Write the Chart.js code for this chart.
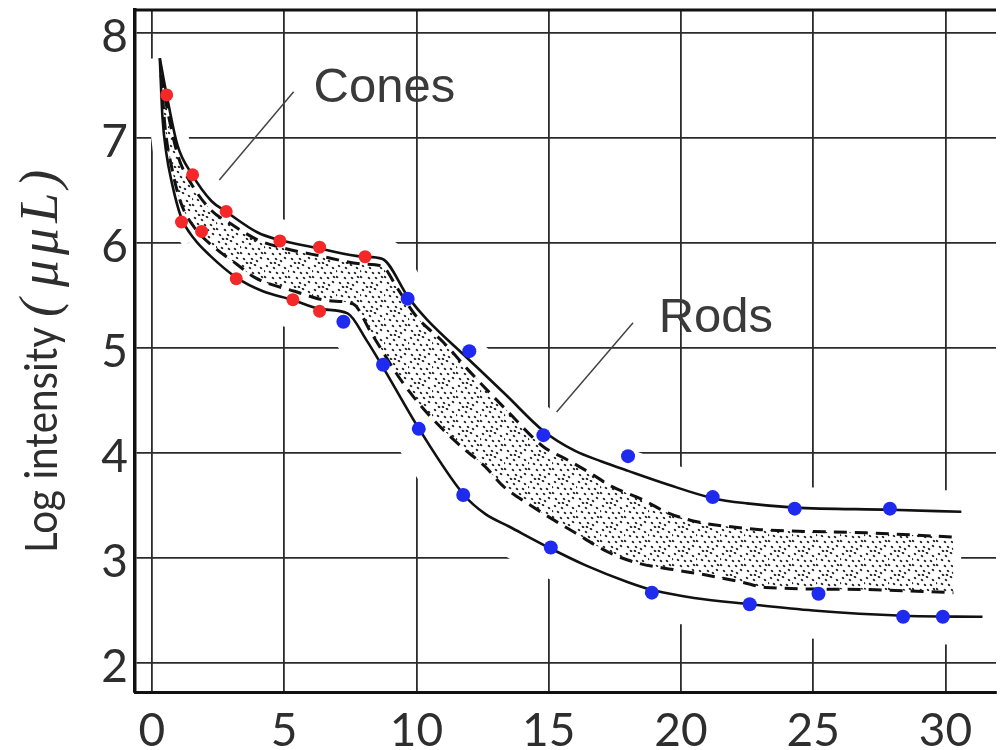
<!DOCTYPE html>
<html>
<head>
<meta charset="utf-8">
<script src="https://cdn.jsdelivr.net/npm/chart.js@4.4.1/dist/chart.umd.min.js"></script>
<style>
html, body { margin:0; padding:0; background:#fff; overflow:hidden; }
#chart { display:block; }
</style>
</head>
<body>
<canvas id="chart" width="1003" height="750"></canvas>
<script>
// dark adaptation: minutes in the dark vs log threshold intensity
var xTicks = [0, 5, 10, 15, 20, 25, 30];
var yTicks = [2, 3, 4, 5, 6, 7, 8];

var coneDots = [[0.56,7.41],[1.12,6.20],[1.54,6.65],[1.88,6.11],[2.81,6.30],[3.19,5.66],[4.84,6.02],[5.33,5.46],[6.34,5.96],[6.34,5.35],[8.06,5.87]];
var rodDots = [[7.24,5.25],[8.74,4.84],[9.67,5.47],[10.09,4.23],[11.77,3.60],[12.0,4.97],[14.8,4.17],[15.08,3.10],[18.0,3.97],[18.9,2.67],[21.2,3.58],[22.6,2.56],[24.3,3.47],[25.2,2.66],[27.9,3.47],[28.4,2.44],[29.9,2.44]];

var upperSolid = [[0.3,7.76],[0.56,7.41],[0.97,6.93],[1.5,6.66],[2.25,6.4],[2.8,6.3],[4,6.1],[4.8,6.03],[6.3,5.95],[8,5.87],[8.7,5.85],[9.7,5.48],[10.4,5.27],[11.9,4.91],[13.4,4.55],[14.8,4.21],[16,4.02],[17,3.92],[18,3.83],[19.5,3.7],[21.2,3.57],[22.5,3.52],[24.3,3.48],[27.9,3.46],[30.6,3.44]];
var lowerSolid = [[0.3,7.76],[0.4,7.2],[0.55,6.85],[0.75,6.58],[1.1,6.25],[1.6,6.04],[2.2,5.88],[3.2,5.67],[4.2,5.54],[5.3,5.46],[6.4,5.37],[7.4,5.33],[8.1,5.08],[8.8,4.79],[10.1,4.23],[11.8,3.6],[12.6,3.42],[13.5,3.3],[15,3.1],[16.4,2.93],[18,2.77],[19,2.69],[20.5,2.62],[22.6,2.56],[25,2.5],[28.4,2.45],[31.4,2.44]];
var upperDashed = [[0.35,7.6],[0.6,7.25],[1,6.82],[1.5,6.56],[2.25,6.31],[3,6.18],[4,6.03],[5,5.95],[6.3,5.88],[8,5.8],[8.7,5.78],[9.3,5.56],[10,5.3],[11,5.06],[12,4.78],[13.4,4.41],[14.8,4.06],[15.6,3.95],[16.5,3.82],[17.4,3.68],[18.6,3.55],[19.5,3.43],[20.7,3.34],[21.8,3.3],[23,3.27],[27,3.24],[30.3,3.2]];
var lowerDashed = [[0.35,7.6],[0.5,7.1],[0.75,6.72],[1.1,6.38],[1.6,6.15],[2.4,5.95],[3.2,5.8],[3.9,5.67],[5.4,5.54],[6.7,5.45],[7.6,5.42],[8.3,5.14],[9.4,4.7],[10.2,4.44],[10.9,4.25],[11.7,4.06],[12.6,3.87],[13.3,3.68],[14.2,3.52],[16,3.24],[17.3,3.05],[18.4,2.95],[19.7,2.89],[20.9,2.84],[22.3,2.77],[23.2,2.72],[26.9,2.7],[30.3,2.67]];

var notes = [
	{ text:'Cones', at:[6.11,7.34], from:[5.36,7.44], to:[2.55,6.60] },
	{ text:'Rods', at:[19.16,5.15], from:[18.19,5.24], to:[15.3,4.39] }
];

function pts(list) {
	return list.map(function(p) { return { x:p[0], y:p[1] }; });
}

function stipple() {
	var c = document.createElement('canvas');
	c.width = 24; c.height = 24;
	var g = c.getContext('2d');
	g.fillStyle = '#222';
	var spots = [[3,2],[10,4],[15,1],[21,4],[6,8],[13,9],[19,9],[1,13],[9,14],[16,14],[22,13],[4,19],[12,19],[17,21],[21,18],[7,23],[0,7],[11,23]];
	spots.forEach(function(p) {
		g.beginPath();
		g.ellipse(p[0], p[1], 1.4, 1.05, 0.6, 0, Math.PI * 2);
		g.fill();
	});
	return g.createPattern(c, 'repeat');
}

function curve(data, opts) {
	var d = {
		data: pts(data), showLine: true, pointRadius: 0, borderColor: '#111', borderWidth: 2.6,
		cubicInterpolationMode: 'monotone', fill: false, order: 3
	};
	Object.keys(opts || {}).forEach(function(k) { d[k] = opts[k]; });
	return d;
}

// white band that erases the grid around the curves, thinner near the peak
function halo(data, width, opts) {
	var d = curve(data, {
		borderColor: '#fff', borderWidth: width, order: 9,
		clip: { left: -3, top: -3, right: 0, bottom: -3 },
		segment: { borderWidth: function(c) { return c.p0.parsed.x < 1.2 ? 26 : undefined; } }
	});
	Object.keys(opts || {}).forEach(function(k) { d[k] = opts[k]; });
	return d;
}

var decor = {
	id: 'decor',
	afterDraw: function(chart) {
		var ctx = chart.ctx, a = chart.chartArea, xs = chart.scales.x, ys = chart.scales.y;
		ctx.save();
		ctx.strokeStyle = '#111';
		ctx.lineWidth = 3;
		ctx.beginPath();
		ctx.moveTo(a.left - 1.5, a.top);
		ctx.lineTo(a.right, a.top);
		ctx.stroke();

		notes.forEach(function(n) {
			ctx.strokeStyle = '#444';
			ctx.lineWidth = 1.5;
			ctx.beginPath();
			ctx.moveTo(xs.getPixelForValue(n.from[0]), ys.getPixelForValue(n.from[1]));
			ctx.lineTo(xs.getPixelForValue(n.to[0]), ys.getPixelForValue(n.to[1]));
			ctx.stroke();
			ctx.fillStyle = '#3a3a3a';
			ctx.font = '49px "Liberation Sans"';
			ctx.textBaseline = 'alphabetic';
			ctx.textAlign = 'left';
			ctx.fillText(n.text, xs.getPixelForValue(n.at[0]), ys.getPixelForValue(n.at[1]));
		});

		// axis title, plain part then the italic unit
		ctx.translate(57, 553);
		ctx.rotate(-Math.PI / 2);
		ctx.fillStyle = '#2e2e2e';
		ctx.textBaseline = 'alphabetic';
		ctx.textAlign = 'left';
		ctx.font = '44px Lato';
		var t1 = 'Log intensity';
		var w1 = ctx.measureText(t1).width;
		ctx.save();
		ctx.scale(226 / w1, 1);
		ctx.fillText(t1, 0, 0);
		ctx.restore();
		ctx.font = 'italic 54px "Liberation Serif"';
		ctx.fillText('(', 236, 0);
		ctx.letterSpacing = '5px';
		ctx.fillText('\u03bc\u03bcL)', 266, 0);
		ctx.restore();
	}
};

window.onload = function() {
	var tickFont = { family: 'Lato', size: 46 };
	new Chart(document.getElementById('chart'), {
		type: 'line',
		data: {
			datasets: [
				{ data: pts(coneDots), showLine: false, pointRadius: 6.5, pointBackgroundColor: '#f42828', pointBorderWidth: 0, order: 1 },
				{ data: pts(rodDots), showLine: false, pointRadius: 7, pointBackgroundColor: '#1f2af0', pointBorderWidth: 0, order: 1 },
				curve(upperSolid),
				curve(lowerSolid),
				curve(upperDashed, { borderDash: [13, 8], borderWidth: 3, fill: 5, backgroundColor: stipple(), order: 5 }),
				curve(lowerDashed, { borderDash: [13, 8], borderWidth: 3, order: 5 }),
				halo(upperSolid, 42, { fill: 7, backgroundColor: '#fff' }),
				halo(lowerSolid, 56)
			]
		},
		options: {
			responsive: false,
			animation: false,
			layout: { padding: { top: 10, left: 0, right: 0, bottom: 0 } },
			plugins: { legend: { display: false }, tooltip: { enabled: false } },
			scales: {
				x: {
					type: 'linear', min: -0.6375, max: 31.91,
					afterBuildTicks: function(s) { s.ticks = xTicks.map(function(v) { return { value:v }; }); },
					afterFit: function(s) { s.height = 58; s.paddingLeft = 0; s.paddingRight = 0; },
					grid: { color: '#2b2b2b', lineWidth: 1.8, drawTicks: false },
					border: { color: '#111', width: 3 },
					ticks: { font: tickFont, color: '#2e2e2e', padding: 12, maxRotation: 0, autoSkip: false }
				},
				y: {
					type: 'linear', min: 1.724, max: 8.219,
					afterBuildTicks: function(s) { s.ticks = yTicks.map(function(v) { return { value:v }; }); },
					afterFit: function(s) { s.width = 135; s.paddingTop = 0; s.paddingBottom = 0; },
					grid: { color: '#2b2b2b', lineWidth: 1.8, drawTicks: false },
					border: { color: '#111', width: 3.5 },
					ticks: { font: tickFont, color: '#2e2e2e', padding: 7, labelOffset: 4, autoSkip: false }
				}
			}
		},
		plugins: [decor]
	});
};
</script>
</body>
</html>
